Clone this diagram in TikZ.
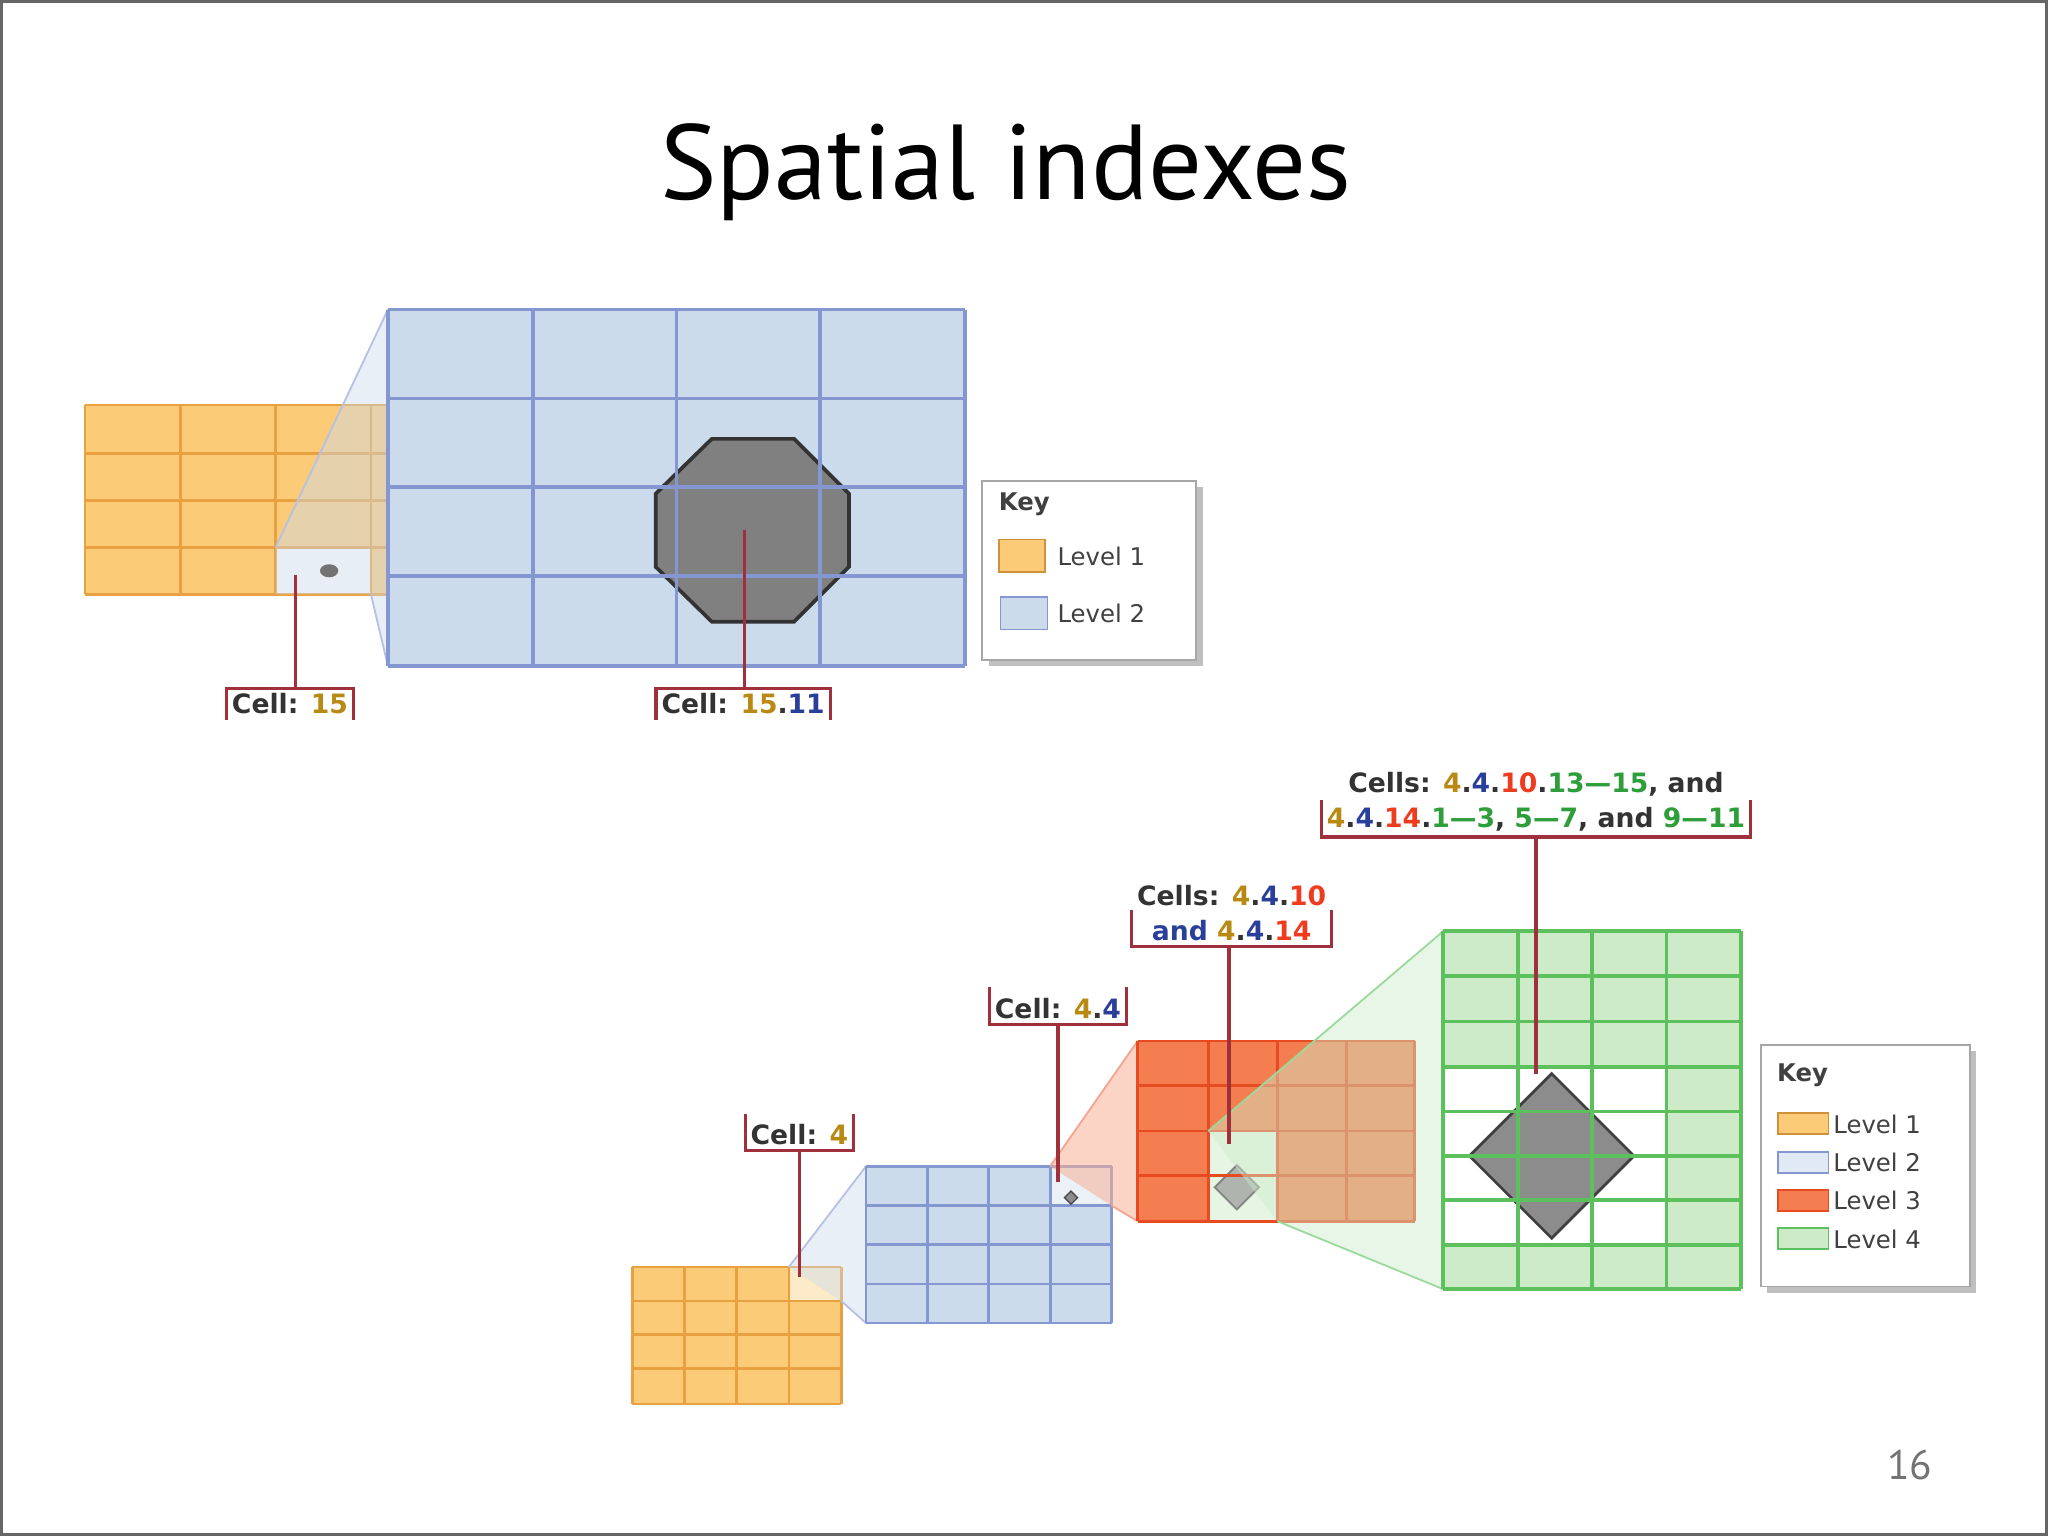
\documentclass[tikz,border=0pt]{standalone}
\usepackage{fontspec}
\setmainfont{DejaVu Sans}
\newfontfamily\titlefont{PT Sans}
\definecolor{yfill}{HTML}{FBCB78}\definecolor{yline}{HTML}{E8A040}
\definecolor{bfill}{HTML}{CBDBEC}\definecolor{bline}{HTML}{8597D0}
\definecolor{rfill}{HTML}{F47E50}\definecolor{rline}{HTML}{E84A22}
\definecolor{gfill}{HTML}{CDEBC9}\definecolor{gline}{HTML}{5CC05C}
\definecolor{lead}{HTML}{A0303C}
\definecolor{cy}{HTML}{B88A14}\definecolor{cb}{HTML}{2A3F9A}
\definecolor{cr}{HTML}{F03C1E}\definecolor{cg}{HTML}{2E9E3A}
\newcommand{\yl}[1]{\textcolor{cy}{#1}}
\newcommand{\bl}[1]{\textcolor{cb}{#1}}
\newcommand{\rd}[1]{\textcolor{cr}{#1}}
\newcommand{\gn}[1]{\textcolor{cg}{#1}}
\begin{document}
\begin{tikzpicture}[x=0.01cm,y=-0.01cm,
  lbl/.style={font=\bfseries\fontsize{5.8}{7.6}\selectfont,text=black!80,inner sep=1pt,align=center},
  leadln/.style={draw=lead,line width=0.7pt},
  keytxt/.style={font=\fontsize{5.3}{6}\selectfont,text=black!75,anchor=west,inner sep=0pt}]
\useasboundingbox (0,0) rectangle (1568,1176);
\draw[black!60,line width=0.6pt] (1,1) rectangle (1567,1175);
\node[font=\titlefont\fontsize{23.2}{28}\selectfont] (title) at (770,132) {Spatial indexes};
\node[font=\titlefont\fontsize{9}{10}\selectfont,text=black!55] (pg) at (1462,1122) {16};

% ===== top diagram =====
\fill[yfill] (65,310) rectangle (297,455);
\fill[white] (211,419) rectangle (284,455);
\foreach \x in {65,138,211,284} \draw[yline,line width=0.6pt] (\x,310)--(\x,455);
\foreach \y in {310,347,383,419,455} \draw[yline,line width=0.6pt] (65,\y)--(297,\y);
\fill[bfill,opacity=0.45] (211,419)--(297,237)--(297,510)--(284,455)--(211,455)--cycle;
\draw[bline!60,line width=0.4pt] (211,419)--(297,237) (284,455)--(297,510);
\fill[black!55] (252,437) ellipse (7 and 5);
\fill[bfill] (297,237) rectangle (739,510);
\fill[black!50,draw=black!80,line width=0.8pt] (545,336)--(608,336)--(650,378)--(650,434)--(608,476)--(545,476)--(502,434)--(502,378)--cycle;
\foreach \x in {297,408,518,628,739} \draw[bline,line width=0.8pt] (\x,237)--(\x,510);
\foreach \y in {237,305,373,441,510} \draw[bline,line width=0.8pt] (297,\y)--(739,\y);
% key 1
\fill[black!25] (757,373) rectangle (921,510);
\draw[black!35,fill=white] (752,368) rectangle (916,505);
\node[keytxt,font=\bfseries\fontsize{5.3}{6}\selectfont] (k1) at (764,386) {Key};
\draw[yline!90!black,fill=yfill] (765,413) rectangle (800,438);
\node[keytxt] (k1a) at (809,426) {Level 1};
\draw[bline,fill=bfill] (766,457) rectangle (802,482);
\node[keytxt] (k1b) at (809,470) {Level 2};
% labels
\node[lbl] (c15) at (222,539) {Cell: \yl{15}};
\node[lbl] (c1511) at (569,539) {Cell: \yl{15}.\bl{11}};
\coordinate (o1) at (226,440); \coordinate (o2) at (570,406);
\foreach \n in {c15,c1511}{
  \draw[leadln] (\n.south west)--(\n.north west)--(\n.north east)--(\n.south east);}
\draw[leadln] (o1)--(o1|-c15.north);
\draw[leadln] (o2)--(o2|-c1511.north);

% ===== bottom diagram =====
\fill[yfill] (484,970) rectangle (644,1075);
\fill[yfill!40] (604,970) rectangle (644,996);
\foreach \x in {484,524,564,604,644} \draw[yline,line width=0.6pt] (\x,970)--(\x,1075);
\foreach \y in {970,996,1022,1048,1075} \draw[yline,line width=0.6pt] (484,\y)--(644,\y);
\fill[bfill,opacity=0.45] (604,970)--(663,893)--(663,1013)--(644,996)--cycle;
\draw[bline!60,line width=0.4pt] (604,970)--(663,893) (644,996)--(663,1013);
\fill[bfill] (663,893) rectangle (851,1013);
\fill[bfill!40] (804,893) rectangle (851,923);
\foreach \x in {663,710,757,804,851} \draw[bline,line width=0.6pt] (\x,893)--(\x,1013);
\foreach \y in {893,923,953,983,1013} \draw[bline,line width=0.6pt] (663,\y)--(851,\y);
\fill[rfill!60,opacity=0.55] (804,893)--(871,797)--(871,935)--(851,923)--cycle;
\draw[rline!50,line width=0.4pt] (804,893)--(871,797) (851,923)--(871,935);
\fill[black!45,draw=black!70,line width=0.3pt] (820,912)--(825,917)--(820,922)--(815,917)--cycle;
\fill[rfill] (871,797) rectangle (1083,935);
\fill[gfill!50] (925,866) rectangle (978,935);
\fill[black!40,opacity=0.7,draw=black!60] (947,892)--(964,909)--(947,926)--(930,909)--cycle;
\foreach \x in {871,925,978,1031,1083} \draw[rline,line width=0.6pt] (\x,797)--(\x,935);
\foreach \y in {797,831,866,900,935} \draw[rline,line width=0.6pt] (871,\y)--(1083,\y);
\fill[gfill,opacity=0.45] (925,866)--(1105,713)--(1105,987)--(978,935)--cycle;
\draw[gline!60,line width=0.4pt] (925,866)--(1105,713) (978,935)--(1105,987);
\fill[gfill] (1105,713) rectangle (1333,987);
\fill[white] (1105,817) rectangle (1276,953);
\fill[black!45,draw=black!75,line width=0.6pt] (1188,822)--(1251,885)--(1188,948)--(1125,885)--cycle;
\foreach \x in {1105,1162,1219,1276,1333} \draw[gline,line width=0.8pt] (\x,713)--(\x,987);
\foreach \y in {713,747,782,817,851,885,919,953,987} \draw[gline,line width=0.8pt] (1105,\y)--(1333,\y);
% key 2
\fill[black!25] (1353,805) rectangle (1513,990);
\draw[black!35,fill=white] (1348,800) rectangle (1508,985);
\node[keytxt,font=\bfseries\fontsize{5.3}{6}\selectfont] (k2) at (1360,823) {Key};
\draw[yline!90!black,fill=yfill] (1361,852) rectangle (1400,868);
\node[keytxt] (k2a) at (1403,861) {Level 1};
\draw[bline,fill=bfill!60] (1361,882) rectangle (1400,898);
\node[keytxt] (k2b) at (1403,890) {Level 2};
\draw[rline,fill=rfill] (1361,911) rectangle (1400,927);
\node[keytxt] (k2c) at (1403,919) {Level 3};
\draw[gline,fill=gfill] (1361,940) rectangle (1400,956);
\node[keytxt] (k2d) at (1403,949) {Level 4};
% labels
\node[lbl] (l4) at (612,869) {Cell: \yl{4}};
\node[lbl] (l44) at (810,772) {Cell: \yl{4}.\bl{4}};
\node[lbl] (l4410) at (943,699) {Cells: \yl{4}.\bl{4}.\rd{10}\\\bl{and} \yl{4}.\bl{4}.\rd{14}};
\node[lbl] (lbig) at (1176,614) {Cells: \yl{4}.\bl{4}.\rd{10}.\gn{13---15}, and\\\yl{4}.\bl{4}.\rd{14}.\gn{1---3}, \gn{5---7}, and \gn{9---11}};
\foreach \n in {l4,l44,l4410,lbig}{
  \draw[leadln] ([yshift=8pt]\n.south west)--(\n.south west)--(\n.south east)--([yshift=8pt]\n.south east);}
\coordinate (p1) at (612,978); \coordinate (p2) at (810,905);
\coordinate (p3) at (941,876); \coordinate (p4) at (1176,822);
\draw[leadln] (l4.south-|p1)--(p1);
\draw[leadln] (l44.south-|p2)--(p2);
\draw[leadln] (l4410.south-|p3)--(p3);
\draw[leadln] (lbig.south-|p4)--(p4);
\end{tikzpicture}
\end{document}
